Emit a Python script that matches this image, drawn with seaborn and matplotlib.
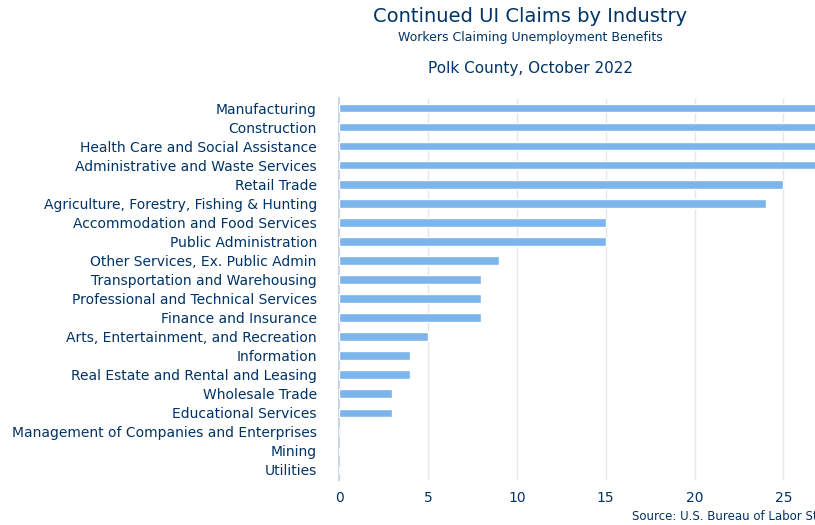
import matplotlib
matplotlib.use("Agg")
import matplotlib.pyplot as plt
import seaborn as sns
import pandas as pd

industries = [
    "Manufacturing", "Construction", "Health Care and Social Assistance",
    "Administrative and Waste Services", "Retail Trade",
    "Agriculture, Forestry, Fishing & Hunting", "Accommodation and Food Services",
    "Public Administration", "Other Services, Ex. Public Admin",
    "Transportation and Warehousing", "Professional and Technical Services",
    "Finance and Insurance", "Arts, Entertainment, and Recreation",
    "Information", "Real Estate and Rental and Leasing", "Wholesale Trade",
    "Educational Services", "Management of Companies and Enterprises",
    "Mining", "Utilities",
]
claims = [38, 33, 30, 28, 25, 24, 15, 15, 9, 8, 8, 8, 5, 4, 4, 3, 3, 0, 0, 0]
x_ticks = [0, 5, 10, 15, 20, 25]

df = pd.DataFrame({"Industry": industries, "Claims": claims})

sns.set_theme(style="white")
plt.rcParams["font.family"] = ["DejaVu Sans"]
navy = "#003366"

fig = plt.figure(figsize=(8.15, 5.25), dpi=100)
ax = fig.add_axes([339 / 815, 1 - 479.5 / 525, 711 / 815, 381 / 525])
sns.barplot(data=df, x="Claims", y="Industry", orient="h", color="#7cb5ec",
            saturation=1, width=0.45, ax=ax, zorder=3)
ax.set_xlim(0, 40)
ax.set_xticks(x_ticks)
ax.grid(axis="x", color="#e6e6e6", linewidth=1, zorder=0)
ax.grid(axis="y", visible=False)
for s in ["top", "right", "bottom"]:
    ax.spines[s].set_visible(False)
ax.spines["left"].set_color("#ccd6eb")
ax.spines["left"].set_linewidth(1.5)
ax.tick_params(axis="both", length=0, labelsize=10, labelcolor=navy)
ax.tick_params(axis="x", pad=8)
ax.tick_params(axis="y", pad=16)
ax.set_xlabel("")
ax.set_ylabel("")

fig.text(530 / 815, 1 - 17 / 525, "Continued UI Claims by Industry", ha="center",
         va="center", fontsize=14, color=navy)
fig.text(530 / 815, 1 - 37 / 525, "Workers Claiming Unemployment Benefits",
         ha="center", va="center", fontsize=9, color=navy)
fig.text(530 / 815, 1 - 68 / 525, "Polk County, October 2022", ha="center",
         va="center", fontsize=11, color=navy)
fig.text(632 / 815, 1 - 516 / 525, "Source: U.S. Bureau of Labor Statistics",
         ha="left", va="center", fontsize=8.5, color=navy)

fig.savefig("out.png", dpi=100)
